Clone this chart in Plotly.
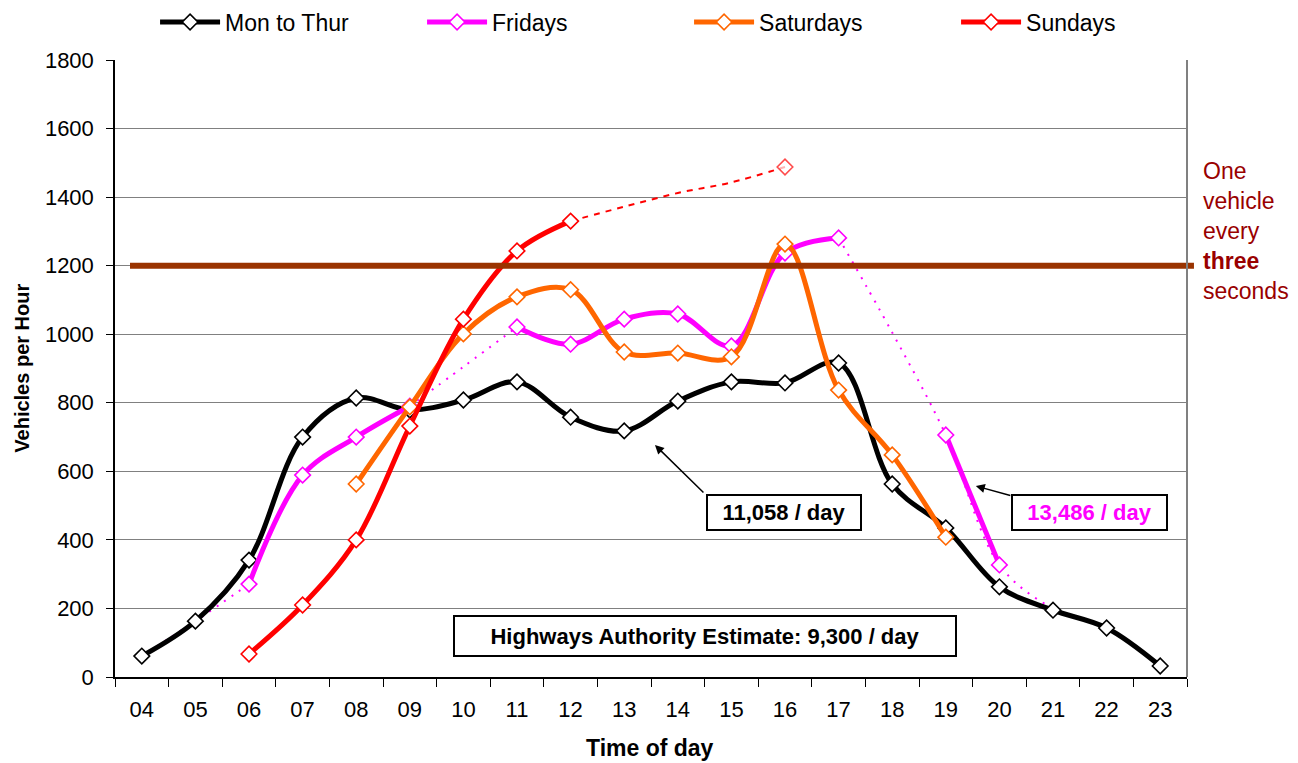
import plotly.graph_objects as go

hours = ["04", "05", "06", "07", "08", "09", "10", "11", "12", "13",
         "14", "15", "16", "17", "18", "19", "20", "21", "22", "23"]

mon_thur = [61, 163, 341, 700, 814, 779, 808, 861, 758, 718,
            805, 861, 858, 916, 563, 435, 263, 195, 143, 32]

fridays = [None, None, 271, 589, 700, 790, None, 1021, 971, 1044,
           1059, 966, 1237, 1281, None, 706, 327, None, None, None]
fridays_est = [61, 163, 271, None, None, 790, 905, 1021, None, None,
               None, None, None, 1281, 1005, 706, 327, 200, 145, 32]

saturdays = [None, None, None, None, 563, 788, 1001, 1109, 1130, 948,
             945, 934, 1263, 837, 648, 408, None, None, None, None]

sundays = [None, None, 67, 210, 400, 732, 1044, 1243, 1330, None,
           None, None, None, None, None, None, None, None, None, None]
sundays_est = [None, None, None, None, None, None, None, None, 1330, 1372,
               1412, 1443, 1488, None, None, None, None, None, None, None]

threshold = 1200
y_ticks = [0, 200, 400, 600, 800, 1000, 1200, 1400, 1600, 1800]

FONT = "Liberation Sans, Arial, sans-serif"

BLACK = "#000000"
MAGENTA = "#FF00FF"
ORANGE = "#FF6600"
RED = "#FF0000"
BROWN = "#993300"
DARKRED = "#990000"

fig = go.Figure()


def add_series(name, values, color, width=5, dash="solid", show=True, marker_sizes=None, legend=True):
    sizes = marker_sizes if marker_sizes is not None else 12
    fig.add_trace(go.Scatter(
        x=hours, y=values, name=name,
        mode="lines+markers" if show else "lines",
        line=dict(color=color, width=width, dash=dash, shape="spline", smoothing=1.0),
        marker=dict(symbol="diamond", size=sizes, color="white",
                    line=dict(color=color, width=1.6)),
        connectgaps=False, showlegend=legend,
    ))


# estimated (dotted) segments first so solid lines sit on top
add_series("Fridays est", fridays_est, MAGENTA, width=2, dash="2px,7px", show=False, legend=False)
sun_est_sizes = [12 if (v is not None and h == "16") else 0 for h, v in zip(hours, sundays_est)]
add_series("Sundays est", sundays_est, RED, width=2, dash="6px,6px", show=True,
           marker_sizes=sun_est_sizes, legend=False)

add_series("Mon to Thur", mon_thur, BLACK)
add_series("Fridays", fridays, MAGENTA)
add_series("Saturdays", saturdays, ORANGE)
add_series("Sundays", sundays, RED)

shapes = [
    dict(type="line", xref="paper", yref="y", x0=0.014, x1=1.0065, y0=threshold, y1=threshold,
         line=dict(color=BROWN, width=6)),
    dict(type="line", xref="paper", yref="paper", x0=1, x1=1, y0=0, y1=1,
         line=dict(color="#808080", width=2)),
]

annotations = []

# boxes
annotations.append(dict(xref="paper", yref="paper", x=0.624, y=0.267, showarrow=False,
                        text="<b>11,058 / day</b>", font=dict(family=FONT, size=22, color=BLACK),
                        bordercolor=BLACK, borderwidth=2, bgcolor="white", width=150, height=31,
                        xanchor="center", yanchor="middle"))
annotations.append(dict(xref="paper", yref="paper", x=0.9095, y=0.267, showarrow=False,
                        text="<b>13,486 / day</b>", font=dict(family=FONT, size=22, color=MAGENTA),
                        bordercolor=BLACK, borderwidth=2, bgcolor="white", width=151, height=31,
                        xanchor="center", yanchor="middle"))
annotations.append(dict(xref="paper", yref="paper", x=0.5504, y=0.0665, showarrow=False,
                        text="<b>Highways Authority Estimate: 9,300 / day</b>",
                        font=dict(family=FONT, size=22, color=BLACK),
                        bordercolor=BLACK, borderwidth=2, bgcolor="white", width=498, height=36,
                        xanchor="center", yanchor="middle"))

# arrows
annotations.append(dict(xref="paper", yref="paper", x=0.5037, y=0.376, ax=50, ay=49,
                        text="", showarrow=True, arrowhead=2, arrowsize=1.2, arrowwidth=1.5,
                        arrowcolor=BLACK))
annotations.append(dict(xref="paper", yref="paper", x=0.803, y=0.3096, ax=36, ay=10,
                        text="", showarrow=True, arrowhead=2, arrowsize=1.2, arrowwidth=1.5,
                        arrowcolor=BLACK))

# right-hand note
note_lines = ["One", "vehicle", "every", "<b>three</b>", "seconds"]
note_y = [0.820, 0.772, 0.723, 0.674, 0.625]
for t, yy in zip(note_lines, note_y):
    annotations.append(dict(xref="paper", yref="paper", x=1.013, y=yy, showarrow=False,
                            text=t, xanchor="left", yanchor="middle",
                            font=dict(family=FONT, size=23, color=DARKRED)))

# axis titles
annotations.append(dict(xref="paper", yref="paper", x=-0.0875, y=0.5, showarrow=False,
                        text="<b>Vehicles per Hour</b>", textangle=-90,
                        font=dict(family=FONT, size=20, color=BLACK),
                        xanchor="center", yanchor="middle"))
annotations.append(dict(xref="paper", yref="paper", x=0.499, y=-0.115, showarrow=False,
                        text="<b>Time of day</b>",
                        font=dict(family=FONT, size=23, color=BLACK),
                        xanchor="center", yanchor="middle"))

# The page body has an 8px margin, so the figure is drawn 8px smaller/offset.
W, H = 1290, 755

fig.update_layout(
    width=W, height=H,
    margin=dict(l=107, r=111, t=52, b=86, autoexpand=False),
    paper_bgcolor="white", plot_bgcolor="white",
    font=dict(family=FONT, size=20, color=BLACK),
    shapes=shapes, annotations=annotations,
    legend=dict(orientation="h", xref="container", yref="container",
                x=0.114, y=1 - 14 / H, xanchor="left", yanchor="middle",
                entrywidth=192, entrywidthmode="pixels", itemwidth=60,
                font=dict(family=FONT, size=23, color=BLACK), traceorder="normal",
                bgcolor="rgba(0,0,0,0)"),
    xaxis=dict(type="category", categoryorder="array", categoryarray=hours,
               range=[-0.5, len(hours) - 0.5],
               tickson="boundaries", ticks="outside", ticklen=8, tickcolor=BLACK,
               ticklabelstandoff=12,
               showline=True, linecolor=BLACK, linewidth=1.5, showgrid=False,
               tickfont=dict(family=FONT, size=22, color=BLACK), zeroline=False),
    yaxis=dict(range=[0, 1800], tickvals=y_ticks, ticks="outside", ticklen=7, tickcolor=BLACK,
               ticklabelstandoff=8,
               showline=True, linecolor=BLACK, linewidth=1.5,
               showgrid=True, gridcolor="#808080", gridwidth=1, zeroline=False,
               tickfont=dict(family=FONT, size=22, color=BLACK)),
    showlegend=True,
)

fig.write_html("out.html")
